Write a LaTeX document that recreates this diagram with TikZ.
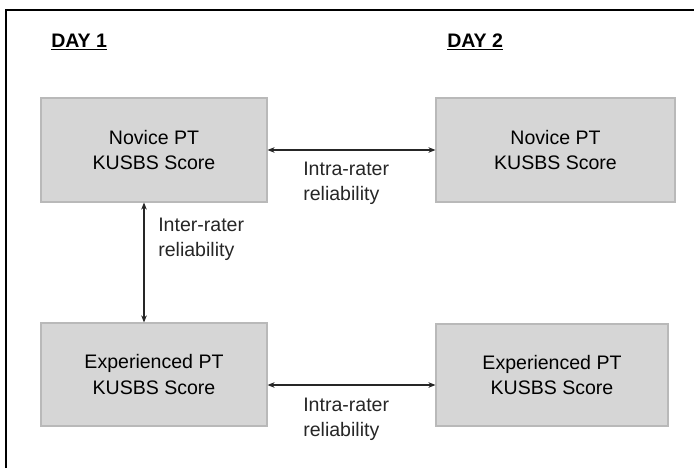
\documentclass[tikz,border=0pt]{standalone}
\usepackage{fontspec}
\setmainfont{Liberation Sans}
\usetikzlibrary{arrows.meta}

\tikzset{
	scorebox/.style={draw=gray!55, fill=gray!32, line width=.8pt, align=center, inner sep=0pt,
		font=\fontsize{13.9pt}{17.8pt}\selectfont},
	relarrow/.style={{Stealth[length=5pt,width=4pt]}-{Stealth[length=5pt,width=4pt]}, line width=.8pt, black!85},
	rellabel/.style={anchor=west, align=left, inner sep=0pt, font=\fontsize{13.9pt}{17.8pt}\selectfont, black!85},
	daylabel/.style={anchor=west, inner sep=0pt, font=\fontsize{13.9pt}{17pt}\selectfont\bfseries}
}

\begin{document}
\begin{tikzpicture}[x=0.025cm, y=-0.025cm]
		\useasboundingbox (0,0) rectangle (694,468);
		\draw[line width=1.4pt](6,468)--(6,10)--(694,10);
		\node[daylabel] (day1) at (51,42) {\underline{DAY 1}};
		\node[daylabel] (day2) at (447,42) {\underline{DAY 2}};
		\node[scorebox, minimum width=5.65cm, minimum height=2.6cm] (novA) at (154,150) {Novice PT\\KUSBS Score};
		\node[scorebox, minimum width=5.975cm, minimum height=2.6cm] (novB) at (555.5,150) {Novice PT\\KUSBS Score};
		\node[scorebox, minimum width=5.65cm, minimum height=2.575cm] (expA) at (154,374.5) {Experienced PT\\KUSBS Score};
		\node[scorebox, minimum width=5.8cm, minimum height=2.55cm] (expB) at (552,375) {Experienced PT\\KUSBS Score};
		\coordinate (v) at (144,0);
		\coordinate (h) at (0,385);
		\draw[relarrow](novA.east)--(novB.west);
		\draw[relarrow](novA.south -| v)--(expA.north -| v);
		\draw[relarrow](expA.east |- h)--(expB.west |- h);
		%\draw[relarrow](novB.south)--(expB.north);
		\node[rellabel] (intraA) at (303,183.5) {Intra-rater\\reliability};
		\node[rellabel] (inter) at (158,239) {Inter-rater\\reliability};
		\node[rellabel] (intraB) at (303,419) {Intra-rater\\reliability};
\end{tikzpicture}
\end{document}
